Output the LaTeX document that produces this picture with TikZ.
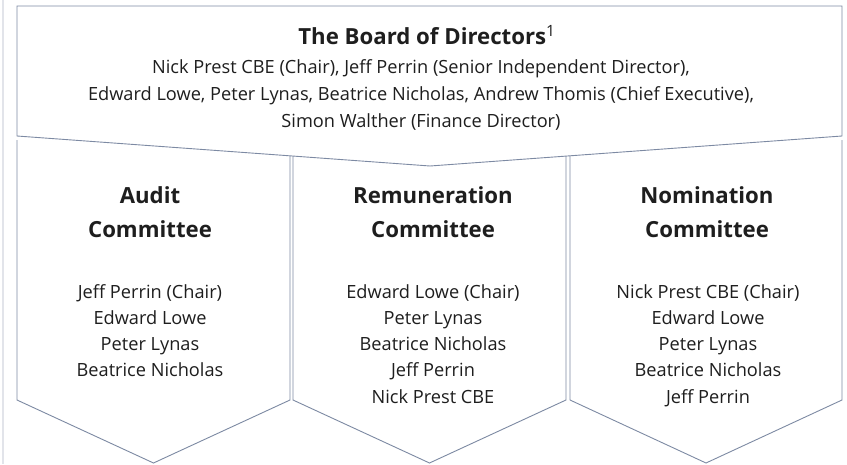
\documentclass[tikz,border=0pt]{standalone}
\usepackage{fontspec}
\setmainfont{Open Sans}
\usetikzlibrary{positioning}
\definecolor{lineblue}{HTML}{7D8AA3}
\definecolor{pagegray}{HTML}{E2E4EA}
\definecolor{inktext}{HTML}{1E1E1E}

\begin{document}
\begin{tikzpicture}[x=1pt, y=-1pt]
	\tikzset{
		frame/.style={draw=lineblue, line width=0.9pt, line join=miter},
		headtext/.style={anchor=base, inner sep=0pt, text=inktext, font=\bfseries\fontsize{22.2}{26}\selectfont},
		bodytext/.style={anchor=base, inner sep=0pt, text=inktext, font=\fontsize{18.2}{27}\selectfont}
	}
	\useasboundingbox (0,0) rectangle (847,464);
	\draw[pagegray, line width=1.5pt] (3,0) -- (3,464);
	
	% 三个委员会
	\foreach \xl/\xr in {17/290, 293/566, 570/842} {
		\draw[frame, fill=white] (\xl,140) -- (\xl,400) -- ({(\xl+\xr)/2},463) -- (\xr,400) -- (\xr,140);
	}
	
	% 董事会
	\draw[frame, fill=white] (17,6) -- (842,6) -- (842,136) -- (430,166) -- (17,136) -- cycle;
	\node[headtext] (board) at (427,44) {The Board of Directors\textsuperscript{\mdseries 1}};
	\foreach \txt [count=\i] in {{Nick Prest CBE (Chair), Jeff Perrin (Senior Independent Director),},
		{Edward Lowe, Peter Lynas, Beatrice Nicholas, Andrew Thomis (Chief Executive),},
		{Simon Walther (Finance Director)}} {
		\node[bodytext] (bm\i) at (421,46+27*\i) {\txt};
	}
	
	% 委员会标题
	\foreach \cx/\ta/\tb [count=\i] in {150/Audit/Committee, 433/Remuneration/Committee, 707/Nomination/Committee} {
		\node[headtext] (hA\i) at (\cx,203) {\ta};
		\node[headtext] (hB\i) at (\cx,237) {\tb};
	}
	
	% 委员会成员
	\foreach \txt [count=\i] in {Jeff Perrin (Chair), Edward Lowe, Peter Lynas, Beatrice Nicholas} {
		\node[bodytext] (au\i) at (150,271.7+26.3*\i) {\txt};
	}
	\foreach \txt [count=\i] in {Edward Lowe (Chair), Peter Lynas, Beatrice Nicholas, Jeff Perrin, Nick Prest CBE} {
		\node[bodytext] (re\i) at (433,271.7+26.3*\i) {\txt};
	}
	\foreach \txt [count=\i] in {Nick Prest CBE (Chair), Edward Lowe, Peter Lynas, Beatrice Nicholas, Jeff Perrin} {
		\node[bodytext] (no\i) at (708,271.7+26.3*\i) {\txt};
	}
\end{tikzpicture}
\end{document}
